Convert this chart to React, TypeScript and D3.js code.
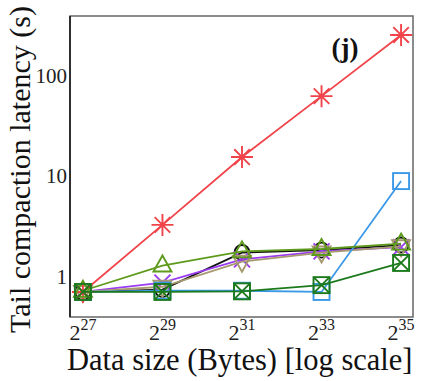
import React from "react";
import * as d3 from "d3";

const exponents = [27, 29, 31, 33, 35];
const yTicks = [1, 10, 100];

const redSeries = [0.71, 3.3, 15.6, 63, 256];
const blueSeries = [0.71, 0.73, 0.73, 0.71, 9.0];
const darkGreenSeries = [0.71, 0.71, 0.72, 0.83, 1.38];
const blackSeries = [0.71, 0.75, 1.75, 1.85, 2.08];
const purpleSeries = [0.71, 0.88, 1.5, 1.8, 1.98];
const tanSeries = [0.71, 0.8, 1.42, 1.75, 2.02];
const oliveSeries = [0.73, 1.3, 1.8, 1.9, 2.15];

const series = [
  { name: "black", values: blackSeries, color: "#111111", marker: "circle" },
  { name: "purple", values: purpleSeries, color: "#9b3cf0", marker: "cross" },
  { name: "tan", values: tanSeries, color: "#a89a70", marker: "invtri" },
  { name: "blue", values: blueSeries, color: "#3a98e6", marker: "square" },
  { name: "red", values: redSeries, color: "#f0444a", marker: "asterisk" },
  { name: "olive", values: oliveSeries, color: "#5e9a1c", marker: "triangle" },
  { name: "darkgreen", values: darkGreenSeries, color: "#1c7a1c", marker: "xsquare" },
];

const W = 424;
const H = 381;
const left = 70, right = 413, top = 16, bottom = 317;
const serif = '"Liberation Serif", "Times New Roman", serif';

function Marker({ type, x, y, color }: { type: string; x: number; y: number; color: string }) {
  const sw = 1.9;
  const common = { fill: "none", stroke: color, strokeWidth: sw };
  const s = 8;
  if (type === "circle") return <circle cx={x} cy={y} r={7.5} {...common} />;
  if (type === "square")
    return <rect x={x - s} y={y - s} width={2 * s} height={2 * s} {...common} />;
  if (type === "xsquare")
    return (
      <g {...common}>
        <rect x={x - s} y={y - s} width={2 * s} height={2 * s} />
        <path d={`M${x - s},${y - s}L${x + s},${y + s}M${x - s},${y + s}L${x + s},${y - s}`} />
      </g>
    );
  if (type === "triangle")
    return <path d={`M${x},${y - 10}L${x + 9},${y + 6}L${x - 9},${y + 6}Z`} {...common} />;
  if (type === "invtri")
    return <path d={`M${x},${y + 10}L${x + 9},${y - 6}L${x - 9},${y - 6}Z`} {...common} />;
  if (type === "cross")
    return <path d={`M${x - 8},${y - 8}L${x + 8},${y + 8}M${x - 8},${y + 8}L${x + 8},${y - 8}`} {...common} />;
  if (type === "asterisk") {
    const r = 11;
    let d = "";
    for (let i = 0; i < 4; i++) {
      const a = (i * Math.PI) / 4;
      d += `M${x - r * Math.cos(a)},${y - r * Math.sin(a)}L${x + r * Math.cos(a)},${y + r * Math.sin(a)}`;
    }
    return <path d={d} {...common} />;
  }
  return null;
}

export default function App() {
  const x = d3.scaleLog().base(2).domain([Math.pow(2, 26.675), Math.pow(2, 35.3)]).range([left, right]);
  const y = d3.scaleLog().domain([0.4, 395]).range([bottom, top]);
  const line = d3
    .line<number>()
    .x((_, i) => x(Math.pow(2, exponents[i])))
    .y((v) => y(v));

  return (
    <svg width={W} height={H} style={{ position: "absolute", left: 0, top: 0, background: "#fff", fontFamily: serif }}>
      <rect x={0} y={0} width={W} height={H} fill="#fff" />
      <rect x={left} y={top} width={right - left} height={bottom - top} fill="none" stroke="#666" strokeWidth={1.5} />
      <line x1={left} x2={left} y1={top} y2={bottom} stroke="#111" strokeWidth={1.5} />

      {series.map((s) => (
        <g key={s.name}>
          <path d={line(s.values) || ""} fill="none" stroke={s.color} strokeWidth={1.8} />
          {s.values.map((v, i) => (
            <Marker key={i} type={s.marker} x={x(Math.pow(2, exponents[i]))} y={y(v)} color={s.color} />
          ))}
        </g>
      ))}

      {yTicks.map((t) => (
        <text key={t} x={67} y={y(t) + 7} textAnchor="end" fontSize={21} fill="#222" style={{ fontFamily: serif }}>
          {t}
        </text>
      ))}

      {exponents.map((e) => (
        <text key={e} x={x(Math.pow(2, e))} y={340} textAnchor="middle" fontSize={22} fill="#222" style={{ fontFamily: serif }}>
          2<tspan dy={-10} fontSize={16}>{e}</tspan>
        </text>
      ))}

      <text x={67} y={370} textAnchor="start" fontSize={30.5} fill="#111" style={{ fontFamily: serif }}>
        Data size (Bytes) [log scale]
      </text>
      <text transform={`translate(30,${333}) rotate(-90)`} textAnchor="start" fontSize={30} fill="#111" style={{ fontFamily: serif }}>
        Tail compaction latency (s)
      </text>
      <text x={345} y={57} textAnchor="middle" fontSize={27} fontWeight="bold" fill="#111" style={{ fontFamily: serif }}>
        (j)
      </text>
    </svg>
  );
}
